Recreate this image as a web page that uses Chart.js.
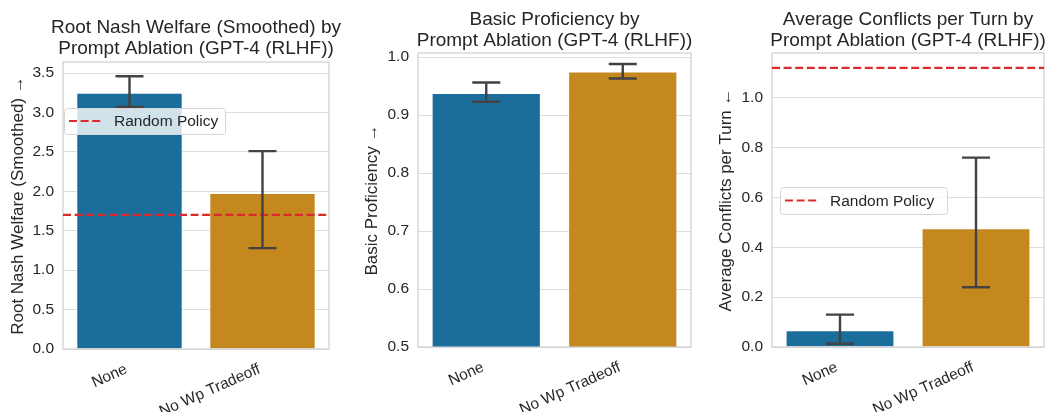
<!DOCTYPE html>
<html>
<head>
<meta charset="utf-8">
<script src="https://cdn.jsdelivr.net/npm/chart.js@4.4.0/dist/chart.umd.min.js"></script>
<style>
html, body { margin: 0; padding: 0; background: #fff; }
#wrap { position: relative; width: 1051px; height: 412px; overflow: hidden; }
canvas { position: absolute; top: 0; }
</style>
</head>
<body>
<div id="wrap">
  <canvas id="c1" width="348" height="412" style="left:0"></canvas>
  <canvas id="c2" width="350" height="412" style="left:350px"></canvas>
  <canvas id="c3" width="351" height="412" style="left:700px"></canvas>
</div>
<script>
// data
const categories = ["None", "No Wp Tradeoff"];

const welfareMean = [3.25, 1.98];
const welfareLow = [3.07, 1.28];
const welfareHigh = [3.46, 2.51];
const welfareRandom = 1.70;
const welfareTicks = [0, 0.5, 1.0, 1.5, 2.0, 2.5, 3.0, 3.5];

const profMean = [0.938, 0.975];
const profLow = [0.923, 0.963];
const profHigh = [0.956, 0.988];
const profTicks = [0.5, 0.6, 0.7, 0.8, 0.9, 1.0];

const conflictMean = [0.067, 0.477];
const conflictLow = [0.013, 0.24];
const conflictHigh = [0.13, 0.76];
const conflictRandom = 1.12;
const conflictTicks = [0, 0.2, 0.4, 0.6, 0.8, 1.0];

const FONT = "'Liberation Sans', Arial, sans-serif";
const TEXT = "#262626";
const GRID = "#dedede";
const RED = "#dc2a2a";
const barColors = ["#1b6d9b", "#c4881f"];
const barEdges = ["rgba(255,255,255,0.35)", "rgba(255,255,255,0.35)"];

/* ===========================
   title, error bars, random line, frame, legend
=========================== */
const extrasPlugin = {
    id: "extras",
    afterDatasetsDraw(chart, args, o) {
        const ctx = chart.ctx;
        const ca = chart.chartArea;
        const y = chart.scales.y;
        const meta = chart.getDatasetMeta(0);

        // two-line title centred on the plot area (may be wider than it)
        ctx.save();
        ctx.fillStyle = TEXT;
        ctx.font = "19px " + FONT;
        ctx.textAlign = "center";
        ctx.textBaseline = "middle";
        const cx = (ca.left + ca.right) / 2;
        o.title.forEach((line, i) => ctx.fillText(line, cx, o.titleY + i * 21.2));
        ctx.restore();

        // frame around plot area
        ctx.save();
        ctx.strokeStyle = "#cfcfcf";
        ctx.lineWidth = 1.2;
        ctx.strokeRect(ca.left, ca.top, ca.right - ca.left, ca.bottom - ca.top);
        ctx.restore();

        // random policy line
        if (o.random != null) {
            const yp = y.getPixelForValue(o.random);
            ctx.save();
            ctx.beginPath();
            ctx.rect(ca.left, ca.top, ca.right - ca.left, ca.bottom - ca.top);
            ctx.clip();
            ctx.strokeStyle = RED;
            ctx.lineWidth = 2.2;
            ctx.setLineDash([8, 3.6]);
            ctx.beginPath();
            ctx.moveTo(ca.left, yp);
            ctx.lineTo(ca.right, yp);
            ctx.stroke();
            ctx.restore();
        }

        // error bars
        ctx.save();
        ctx.strokeStyle = "#424242";
        ctx.lineWidth = 2.4;
        ctx.lineCap = "butt";
        meta.data.forEach((bar, i) => {
            const x = bar.x;
            const yl = y.getPixelForValue(o.low[i]);
            const yh = y.getPixelForValue(o.high[i]);
            ctx.beginPath();
            ctx.moveTo(x, yl); ctx.lineTo(x, yh);
            ctx.moveTo(x - 14, yl); ctx.lineTo(x + 14, yl);
            ctx.moveTo(x - 14, yh); ctx.lineTo(x + 14, yh);
            ctx.stroke();
        });
        ctx.restore();

        // legend
        if (o.legend) {
            const L = o.legend;
            const x0 = ca.left + L.dx, y0 = ca.top + L.dy;
            ctx.save();
            ctx.fillStyle = "rgba(255,255,255,0.8)";
            ctx.strokeStyle = "#d6d6d6";
            ctx.lineWidth = 1;
            ctx.beginPath();
            ctx.roundRect(x0 + 0.5, y0 + 0.5, L.w, L.h, 3);
            ctx.fill();
            ctx.stroke();
            const ym = y0 + L.h / 2;
            ctx.strokeStyle = RED;
            ctx.lineWidth = 2.2;
            ctx.setLineDash([8, 3.6]);
            ctx.beginPath();
            ctx.moveTo(x0 + 5, ym);
            ctx.lineTo(x0 + 38, ym);
            ctx.stroke();
            ctx.setLineDash([]);
            ctx.fillStyle = TEXT;
            ctx.font = "15.5px " + FONT;
            ctx.textBaseline = "middle";
            ctx.fillText("Random Policy", x0 + 50, ym + 1);
            ctx.restore();
        }
    }
};

function makePanel(id, p) {
    return new Chart(document.getElementById(id), {
        type: "bar",
        data: {
            labels: categories,
            datasets: [{
                data: p.mean,
                backgroundColor: barColors,
                borderColor: barEdges,
                borderWidth: 1,
                barPercentage: 0.8,
                categoryPercentage: 1
            }]
        },
        options: {
            responsive: false,
            animation: false,
            events: [],
            layout: { padding: { left: 0, right: p.padRight, top: p.padTop, bottom: 0 } },
            plugins: {
                legend: { display: false },
                tooltip: { enabled: false },
                title: { display: false },
                extras: {
                    title: p.title, titleY: p.titleY,
                    low: p.low, high: p.high, random: p.random, legend: p.legend
                }
            },
            scales: {
                x: {
                    grid: { display: false },
                    border: { display: false },
                    ticks: {
                        color: TEXT,
                        font: { family: FONT, size: 15.5 },
                        maxRotation: 24,
                        minRotation: 24,
                        padding: 3,
                        labelOffset: -3
                    },
                    afterFit: s => { s.height = p.xHeight; }
                },
                y: {
                    min: p.min,
                    max: p.max,
                    grid: { color: GRID, lineWidth: 1, drawTicks: false },
                    border: { display: false },
                    ticks: {
                        color: TEXT,
                        font: { family: FONT, size: 15.5 },
                        padding: 9,
                        callback: v => Number(v).toFixed(1)
                    },
                    afterBuildTicks: s => { s.ticks = p.ticks.map(v => ({ value: v })); },
                    afterFit: s => { s.width = p.yWidth; },
                    title: {
                        display: true,
                        text: p.yTitle,
                        color: TEXT,
                        font: { family: FONT, size: 17 },
                        padding: { top: p.yTitlePad, bottom: 0 }
                    }
                }
            }
        },
        plugins: [extrasPlugin]
    });
}

makePanel("c1", {
    title: ["Root Nash Welfare (Smoothed) by", "Prompt Ablation (GPT-4 (RLHF))"],
    yTitle: "Root Nash Welfare (Smoothed) \u2192",
    mean: welfareMean, low: welfareLow, high: welfareHigh,
    random: welfareRandom, ticks: welfareTicks, min: 0, max: 3.64,
    legend: { dx: 1, dy: 46, w: 161, h: 26 },
    padRight: 19, padTop: 62, yWidth: 63, xHeight: 63, yTitlePad: 8,
    titleY: 28
});

makePanel("c2", {
    title: ["Basic Proficiency by", "Prompt Ablation (GPT-4 (RLHF))"],
    yTitle: "Basic Proficiency \u2192",
    mean: profMean, low: profLow, high: profHigh,
    random: null, ticks: profTicks, min: 0.5, max: 1.007,
    legend: null,
    padRight: 9, padTop: 53, yWidth: 68, xHeight: 65, yTitlePad: 12,
    titleY: 20
});

makePanel("c3", {
    title: ["Average Conflicts per Turn by", "Prompt Ablation (GPT-4 (RLHF))"],
    yTitle: "Average Conflicts per Turn \u2190",
    mean: conflictMean, low: conflictLow, high: conflictHigh,
    random: conflictRandom, ticks: conflictTicks, min: 0, max: 1.18,
    legend: { dx: 8, dy: 134, w: 167, h: 27 },
    padRight: 7, padTop: 53, yWidth: 72, xHeight: 65, yTitlePad: 16,
    titleY: 20
});
</script>
</body>
</html>
